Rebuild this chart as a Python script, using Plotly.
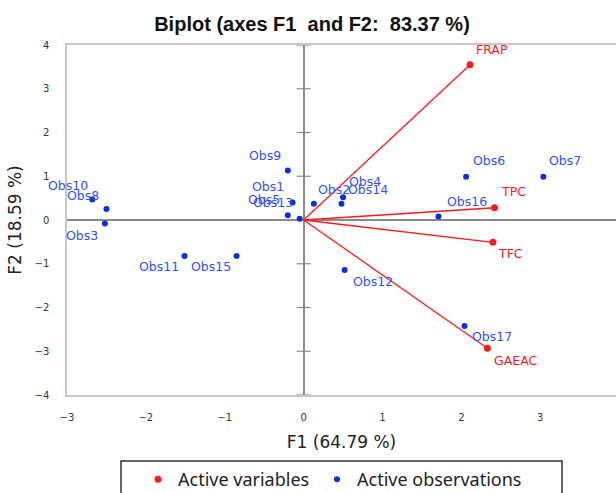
import plotly.graph_objects as go

# Observation scores on the first two factors
obs_names = ["Obs1", "Obs2", "Obs3", "Obs4", "Obs5", "Obs6", "Obs7", "Obs8", "Obs9",
             "Obs10", "Obs11", "Obs12", "Obs13", "Obs14", "Obs15", "Obs16", "Obs17"]
obs_f1 = [-0.14, 0.13, -2.52, 0.50, -0.20, 2.06, 3.04, -2.50, -0.20,
          -2.68, -1.51, 0.52, -0.05, 0.48, -0.85, 1.71, 2.04]
obs_f2 = [0.40, 0.37, -0.08, 0.52, 0.11, 0.99, 0.99, 0.25, 1.13,
          0.47, -0.82, -1.14, 0.03, 0.37, -0.82, 0.08, -2.42]

# Variable loadings (vectors from the origin)
var_names = ["FRAP", "TPC", "TFC", "GAEAC"]
var_f1 = [2.11, 2.42, 2.40, 2.33]
var_f2 = [3.55, 0.28, -0.51, -2.93]

x_ticks = [-3, -2, -1, 0, 1, 2, 3]
y_ticks = [-4, -3, -2, -1, 0, 1, 2, 3, 4]

# Pixel offsets of each point label from its marker
label_offsets = {
    "Obs1": (-25, 16), "Obs2": (20, 14), "Obs3": (-23, -12), "Obs4": (22, 16),
    "Obs5": (-24, 16), "Obs6": (23, 16), "Obs7": (22, 16), "Obs8": (-23, 14),
    "Obs9": (-23, 15), "Obs10": (-24, 14), "Obs11": (-26, -11), "Obs12": (28, -12),
    "Obs13": (-27, 16), "Obs14": (27, 14), "Obs15": (-26, -11), "Obs16": (29, 15),
    "Obs17": (27, -11),
    "FRAP": (22, 15), "TPC": (19, 16), "TFC": (18, -11), "GAEAC": (28, -12),
}

RED = "#ff1a1a"
BLUE_PT = "#0a2ee6"
BLUE_TXT = "#3050ff"
AXIS_GRAY = "#8a8a8a"
FRAME_GRAY = "#c8c8c8"

fig = go.Figure()

# tick marks sitting on the vertical zero axis
fig.add_trace(go.Scatter(
    x=[0] * len(y_ticks), y=y_ticks, mode="markers",
    marker=dict(symbol="line-ew", size=10, line=dict(width=1.2, color=AXIS_GRAY)),
    hoverinfo="skip", showlegend=False))

# variable vectors
vx, vy = [], []
for a, b in zip(var_f1, var_f2):
    vx += [0, a, None]
    vy += [0, b, None]
fig.add_trace(go.Scatter(x=vx, y=vy, mode="lines", line=dict(color=RED, width=1.3),
                         hoverinfo="skip", showlegend=False))

fig.add_trace(go.Scatter(x=var_f1, y=var_f2, mode="markers", name="Active variables",
                         text=var_names, marker=dict(color=RED, size=7), legend="legend"))
fig.add_trace(go.Scatter(x=obs_f1, y=obs_f2, mode="markers", name="Active observations",
                         text=obs_names, marker=dict(color=BLUE_PT, size=6), legend="legend2"))

label_font = dict(family="DejaVu Sans", size=12.5)
for n, a, b in zip(obs_names, obs_f1, obs_f2):
    dx, dy = label_offsets[n]
    fig.add_annotation(x=a, y=b, text=n, showarrow=False, xshift=dx, yshift=dy,
                       font=dict(color=BLUE_TXT, **label_font))
for n, a, b in zip(var_names, var_f1, var_f2):
    dx, dy = label_offsets[n]
    fig.add_annotation(x=a, y=b, text=n, showarrow=False, xshift=dx, yshift=dy,
                       font=dict(color=RED, **label_font))

# legend frame
fig.add_shape(type="rect", xref="paper", yref="paper",
              x0=(121 - 67) / 549, x1=(562 - 67) / 549,
              y0=(395 - 461) / 350, y1=(395 - 510) / 350,
              line=dict(color="#333333", width=1.5), fillcolor="rgba(0,0,0,0)")

tick_font = dict(family="DejaVu Sans", size=10, color="#333333")
title_font = dict(family="DejaVu Sans", size=17, color="#222222")
legend_common = dict(orientation="h", xanchor="left", yanchor="top",
                     y=(395 - 461) / 350,
                     font=dict(family="Noto Sans", size=18, color="#222222"),
                     bgcolor="rgba(0,0,0,0)", borderwidth=0)

fig.update_layout(
    width=616, height=493,
    margin=dict(l=67, r=0, t=45, b=98, autoexpand=False),
    paper_bgcolor="white", plot_bgcolor="white",
    title=dict(text="<b>Biplot (axes F1&nbsp; and F2:&nbsp; 83.37 %)</b>",
               x=312 / 616, xanchor="center", y=1 - 24 / 493, yanchor="middle",
               font=dict(family="Liberation Sans", size=20, color="#111111")),
    xaxis=dict(range=[-3, -3 + 549 / 78.87], tickvals=x_ticks, ticks="",
               showgrid=False, zeroline=True, zerolinecolor=AXIS_GRAY, zerolinewidth=1.5,
               showline=True, mirror=True, linecolor=FRAME_GRAY, linewidth=1.5,
               tickfont=tick_font, ticklabelstandoff=12,
               title=dict(text="F1 (64.79 %)", font=title_font, standoff=14)),
    yaxis=dict(range=[-4, 4], tickvals=y_ticks, ticks="",
               showgrid=False, zeroline=True, zerolinecolor=AXIS_GRAY, zerolinewidth=1.5,
               showline=True, mirror=False, linecolor=FRAME_GRAY, linewidth=1.5,
               tickfont=tick_font, ticklabelstandoff=14,
               title=dict(text="F2 (18.59 %)", font=title_font, standoff=9)),
    legend=dict(x=(138 - 67) / 549, **legend_common),
    legend2=dict(x=(317 - 67) / 549, **legend_common),
    showlegend=True,
    hovermode=False,
)

fig.write_html("out.html")
